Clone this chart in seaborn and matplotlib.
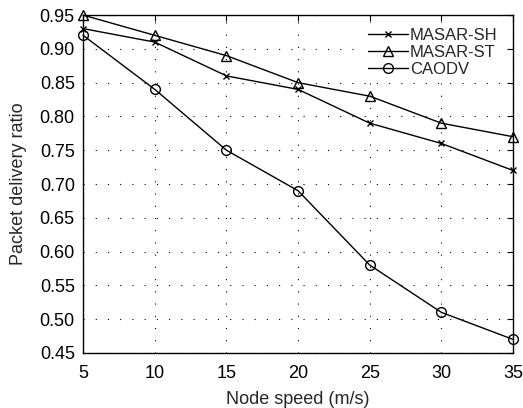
import matplotlib
matplotlib.use("Agg")
import matplotlib.pyplot as plt
import seaborn as sns
import pandas as pd

# Dados
node_speed = [5, 10, 15, 20, 25, 30, 35]
masar_sh = [0.93, 0.91, 0.86, 0.84, 0.79, 0.76, 0.72]
masar_st = [0.95, 0.92, 0.89, 0.85, 0.83, 0.79, 0.77]
caodv = [0.92, 0.84, 0.75, 0.69, 0.58, 0.51, 0.47]

series_names = ["MASAR-SH", "MASAR-ST", "CAODV"]
series_values = [masar_sh, masar_st, caodv]
markers = {"MASAR-SH": "x", "MASAR-ST": "^", "CAODV": "o"}
msizes = {"MASAR-SH": 5, "MASAR-ST": 7.5, "CAODV": 7}

df = pd.concat(
    [pd.DataFrame({"speed": node_speed, "pdr": vals, "proto": name})
     for name, vals in zip(series_names, series_values)],
    ignore_index=True,
)

sns.set_style("white")
plt.rcParams["font.family"] = ["Liberation Sans", "DejaVu Sans"]

fig = plt.figure(figsize=(5.23, 4.08), dpi=100)
ax = fig.add_axes([0.159, 0.135, 0.822, 0.828])

for name in series_names:
    sub = df[df["proto"] == name]
    sns.lineplot(
        data=sub, x="speed", y="pdr", ax=ax, color="black", linewidth=1.0,
        marker=markers[name], markersize=msizes[name],
        markerfacecolor="none", markeredgecolor="black", markeredgewidth=1.0,
        label=name,
    )

# marcadores nas bordas ficam inteiros, como no original
for ln in ax.lines:
    ln.set_clip_on(False)
    ln.set_zorder(3)

ax.set_xlim(5, 35)
ax.set_ylim(0.45, 0.95)
ax.set_xticks(node_speed)
yticks = [0.45, 0.50, 0.55, 0.60, 0.65, 0.70, 0.75, 0.80, 0.85, 0.90, 0.95]
ax.set_yticks(yticks)
ax.set_yticklabels([f"{v:.2f}" for v in yticks])

ax.grid(True, linestyle=(0, (1, 10)), color="black", linewidth=0.8)
ax.tick_params(direction="in", top=True, right=True, length=4, labelsize=13,
               colors="black")
ax.tick_params(axis="x", pad=9)
ax.tick_params(axis="y", pad=6)
for s in ax.spines.values():
    s.set_color("black")
    s.set_linewidth(1.0)

ax.set_xlabel("Node speed (m/s)", fontsize=13, labelpad=6)
ax.set_ylabel("Packet delivery ratio", fontsize=13, labelpad=9)

leg = ax.legend(loc="upper right", bbox_to_anchor=(0.975, 0.976), fontsize=12,
                frameon=True, fancybox=False, facecolor="white",
                edgecolor="none", framealpha=1.0, borderpad=0.3,
                handlelength=2.4, labelspacing=0.1, handletextpad=0.1,
                borderaxespad=0)
leg.set_zorder(5)

plt.savefig("out.png", dpi=100)
plt.close()
